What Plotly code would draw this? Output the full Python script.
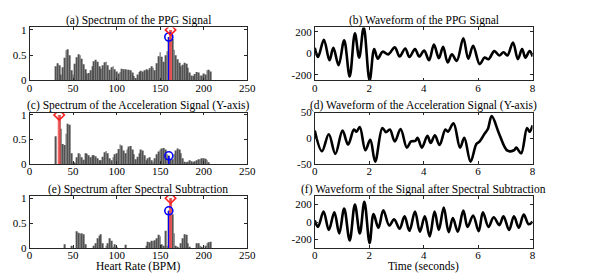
import plotly.graph_objects as go

# ---------------- data ----------------
hr_bins = list(range(30, 210, 2))  # heart-rate bins (BPM)

spec_ppg = [0.28, 0.34, 0.30, 0.12, 0.26, 0.45, 0.60, 0.62, 0.50, 0.20,
            0.12, 0.33, 0.46, 0.52, 0.50, 0.43, 0.32, 0.22, 0.14, 0.15,
            0.20, 0.28, 0.38, 0.41, 0.37, 0.28, 0.23, 0.30, 0.36, 0.37,
            0.30, 0.21, 0.26, 0.28, 0.22, 0.18, 0.14, 0.17, 0.23, 0.22,
            0.22, 0.21, 0.21, 0.20, 0.16, 0.09, 0.05, 0.12, 0.17, 0.19,
            0.18, 0.20, 0.22, 0.20, 0.24, 0.28, 0.25, 0.20, 0.34, 0.48,
            0.56, 0.47, 0.37, 0.50, 0.58, 0.86, 1.00, 0.82, 0.61, 0.50,
            0.42, 0.35, 0.28, 0.31, 0.35, 0.33, 0.25, 0.16, 0.10, 0.09,
            0.13, 0.17, 0.16, 0.10, 0.10, 0.14, 0.12, 0.20, 0.21, 0.18]

spec_acc = [0.57, 0.00, 1.00, 0.72, 0.41, 0.39, 0.62, 0.82, 0.80, 0.22,
            0.04, 0.02, 0.14, 0.22, 0.20, 0.14, 0.09, 0.22, 0.21, 0.18,
            0.14, 0.18, 0.18, 0.16, 0.12, 0.08, 0.08, 0.15, 0.24, 0.27,
            0.22, 0.12, 0.08, 0.14, 0.20, 0.22, 0.31, 0.40, 0.38, 0.28,
            0.22, 0.30, 0.36, 0.37, 0.30, 0.20, 0.10, 0.15, 0.22, 0.30,
            0.28, 0.18, 0.08, 0.12, 0.14, 0.08, 0.05, 0.12, 0.20, 0.26,
            0.30, 0.32, 0.33, 0.30, 0.20, 0.17, 0.10, 0.10, 0.20, 0.28,
            0.32, 0.30, 0.22, 0.12, 0.05, 0.03, 0.05, 0.08, 0.06, 0.04,
            0.06, 0.08, 0.10, 0.10, 0.12, 0.12, 0.11, 0.08, 0.04, 0.00]

spec_sub = [0.00, 0.00, 0.00, 0.00, 0.00, 0.08, 0.00, 0.00, 0.00, 0.05,
            0.00, 0.00, 0.34, 0.31, 0.29, 0.30, 0.28, 0.08, 0.00, 0.00,
            0.00, 0.00, 0.05, 0.10, 0.20, 0.25, 0.28, 0.10, 0.00, 0.05,
            0.10, 0.20, 0.15, 0.03, 0.08, 0.03, 0.00, 0.00, 0.00, 0.00,
            0.07, 0.00, 0.00, 0.00, 0.00, 0.00, 0.00, 0.00, 0.00, 0.00,
            0.00, 0.00, 0.05, 0.13, 0.12, 0.15, 0.14, 0.16, 0.20, 0.27,
            0.24, 0.08, 0.05, 0.35, 0.05, 0.75, 1.00, 0.68, 0.30, 0.05,
            0.03, 0.00, 0.10, 0.20, 0.28, 0.27, 0.10, 0.02, 0.00, 0.00,
            0.00, 0.10, 0.10, 0.05, 0.02, 0.00, 0.05, 0.10, 0.12, 0.13]

# detected spectral peak (red) and reference heart rate (blue): [ppg, acc, sub]
peak_bpm = [162, 34, 162]
peak_val = [1.00, 1.00, 1.00]
ref_bpm = [160, 160, 160]
ref_val = [0.86, 0.17, 0.75]

# waveforms (turning points, seconds / amplitude)
ppg_t = [0, 0.12, 0.336, 0.54, 0.684, 0.876, 1.08, 1.283, 1.475, 1.631,
         1.799, 2.015, 2.183, 2.315, 2.495, 2.699, 2.939, 3.118, 3.322, 3.478,
         3.682, 3.838, 4.018, 4.198, 4.378, 4.558, 4.714, 4.882, 5.037, 5.217,
         5.457, 5.637, 5.817, 6.057, 6.237, 6.381, 6.597, 6.777, 6.933, 7.077,
         7.281, 7.46, 7.616, 7.736, 7.892, 8.0]
ppg_v = [50, -35, 125, -65, 50, -110, 120, -215, 185, -40,
         240, -252, 40, -50, 15, -10, 55, -30, 45, -35,
         40, -30, 25, -65, 80, -45, 60, -85, -10, -70,
         140, -50, 70, -100, -40, -55, 20, -20, 10, -20,
         100, -55, 40, -40, 20, -30]

acc_t = [0, 0.264, 0.516, 0.756, 1.02, 1.223, 1.439, 1.535, 1.655, 1.859,
         2.039, 2.219, 2.483, 2.615, 2.759, 2.939, 3.154, 3.382, 3.538, 3.694,
         3.778, 3.934, 4.138, 4.258, 4.414, 4.582, 4.798, 4.894, 5.097, 5.337,
         5.493, 5.721, 5.937, 6.057, 6.237, 6.357, 6.501, 6.777, 7.077, 7.317,
         7.401, 7.58, 7.796, 7.892, 8.0]
acc_v = [15, -25, 8, -30, 15, -12, 17, 13, 22, -23,
         -3, -45, 20, 12, 17, -6, 18, -18, -6, -5,
         1, -18, 5, -9, 6, -13, 17, 13, 29, -18,
         1, -45, -11, -6, 9, 18, 43, 8, -24, -23,
         -18, -29, 20, 13, 25]

sub_t = [0, 0.12, 0.324, 0.516, 0.72, 0.9, 1.08, 1.283, 1.475, 1.655,
         1.823, 2.015, 2.159, 2.339, 2.519, 2.735, 2.915, 3.118, 3.298, 3.478,
         3.682, 3.862, 4.042, 4.222, 4.402, 4.558, 4.738, 4.918, 5.073, 5.253,
         5.457, 5.613, 5.817, 6.021, 6.177, 6.381, 6.573, 6.777, 6.933, 7.137,
         7.317, 7.496, 7.676, 7.856, 8.0]
sub_v = [18, -55, 120, -90, 110, -130, 155, -210, 200, -130,
         230, -240, 90, -65, 135, -40, 30, -75, 65, -100,
         120, -110, 65, -165, 120, -90, 165, -115, 45, -110,
         130, -55, 75, -105, 110, -55, 55, -35, 65, -90,
         65, -65, 85, -25, 5]

left_titles = ["(a) Spectrum of the PPG Signal",
               "(c) Spectrum of the Acceleration Signal (Y-axis)",
               "(e) Spectrum after Spectral Subtraction"]
right_titles = ["(b) Waveform of the PPG Signal",
                "(d) Waveform of the Acceleration Signal (Y-axis)",
                "(f) Waveform of the Signal after Spectral Subtraction"]
x_label_left = "Heart Rate (BPM)"
x_label_right = "Time (seconds)"

# ---------------- layout geometry ----------------
W, H = 595, 276
FONT = "Liberation Serif"
AX = "#262626"

def px_x(p):
    return p / W

def px_y(p):
    return 1 - p / H

rows_px = [(14, 69.5), (103, 157), (190, 245)]
left_px = (19, 241)
right_px = (310, 532.3)
title_px = [6.5, 95.5, 183]

fig = go.Figure()

spectra = [spec_ppg, spec_acc, spec_sub]
waves = [(ppg_t, ppg_v), (acc_t, acc_v), (sub_t, sub_v)]
wave_ranges = [[-252, 240], [-50, 50], [-300, 300]]
wave_ticks = [[-200, 0, 200], [-50, 0, 50], [-200, 0, 200]]

layout = dict(width=W, height=H, margin=dict(l=0, r=0, t=0, b=0),
              plot_bgcolor="white", paper_bgcolor="white", showlegend=False,
              font=dict(family=FONT, size=11, color=AX))

annotations = []

def axis_common():
    return dict(showline=True, linecolor=AX, linewidth=0.8, mirror="ticks",
                ticks="inside", ticklen=3, tickcolor=AX, tickwidth=0.8,
                showgrid=False, zeroline=False,
                tickfont=dict(family=FONT, size=11, color="#000000"))

for r in range(3):
    top, bot = rows_px[r]
    li = 2 * r + 1
    ri = 2 * r + 2
    lx = "x" if li == 1 else f"x{li}"
    ly = "y" if li == 1 else f"y{li}"
    rx = f"x{ri}"
    ry = f"y{ri}"

    fig.add_trace(go.Bar(x=hr_bins, y=spectra[r], width=1.0,
                         marker=dict(color="#525252", line=dict(width=0)),
                         xaxis=lx, yaxis=ly))
    fig.add_trace(go.Scatter(x=[ref_bpm[r], ref_bpm[r]], y=[0, ref_val[r]],
                             mode="lines", line=dict(color="#0000ff", width=1.6),
                             xaxis=lx, yaxis=ly))
    fig.add_trace(go.Scatter(x=[peak_bpm[r], peak_bpm[r]], y=[0, peak_val[r]],
                             mode="lines", line=dict(color="rgba(255,80,80,0.8)", width=3),
                             xaxis=lx, yaxis=ly))
    fig.add_trace(go.Scatter(x=[ref_bpm[r]], y=[ref_val[r]], mode="markers",
                             marker=dict(symbol="circle-open", color="#0000ff", size=8,
                                         line=dict(width=1.6, color="#0000ff")),
                             xaxis=lx, yaxis=ly))
    fig.add_trace(go.Scatter(x=[peak_bpm[r]], y=[peak_val[r]], mode="markers",
                             marker=dict(symbol="diamond-open", color="#ff2020", size=8,
                                         line=dict(width=1.6, color="#ff2020")),
                             xaxis=lx, yaxis=ly))

    t, v = waves[r]
    fig.add_trace(go.Scatter(x=t, y=v, mode="lines",
                             line=dict(color="#000000", width=2.6, shape="spline", smoothing=1.0),
                             xaxis=rx, yaxis=ry))

    xa = axis_common()
    xa.update(domain=[px_x(left_px[0]), px_x(left_px[1])], range=[0, 250],
              tickvals=[0, 50, 100, 150, 200, 250], anchor=ly, ticklabelstandoff=-3)
    ya = axis_common()
    ya.update(domain=[px_y(bot), px_y(top)], range=[0, 1.05],
              tickvals=[0, 0.5, 1], ticktext=["0", "0.5", "1"], anchor=lx)
    layout["xaxis" if li == 1 else f"xaxis{li}"] = xa
    layout["yaxis" if li == 1 else f"yaxis{li}"] = ya

    xb = axis_common()
    xb.update(domain=[px_x(right_px[0]), px_x(right_px[1])], range=[0, 8],
              tickvals=[0, 2, 4, 6, 8], anchor=ry, ticklabelstandoff=-3)
    yb = axis_common()
    yb.update(domain=[px_y(bot), px_y(top)], range=wave_ranges[r],
              tickvals=wave_ticks[r], ticktext=[str(k) for k in wave_ticks[r]], anchor=rx)
    layout[f"xaxis{ri}"] = xb
    layout[f"yaxis{ri}"] = yb

    for ttl, (a, b) in ((left_titles[r], left_px), (right_titles[r], right_px)):
        annotations.append(dict(text=ttl, xref="paper", yref="paper",
                                x=px_x((a + b) / 2), y=px_y(title_px[r]),
                                xanchor="center", yanchor="middle", showarrow=False,
                                font=dict(family=FONT, size=11.5, color="#000000")))

for lbl, (a, b) in ((x_label_left, left_px), (x_label_right, right_px)):
    annotations.append(dict(text=lbl, xref="paper", yref="paper",
                            x=px_x((a + b) / 2), y=px_y(264),
                            xanchor="center", yanchor="middle", showarrow=False,
                            font=dict(family=FONT, size=11.5, color="#000000")))
layout["annotations"] = annotations

fig.update_layout(**layout)
fig.write_html("out.html")
